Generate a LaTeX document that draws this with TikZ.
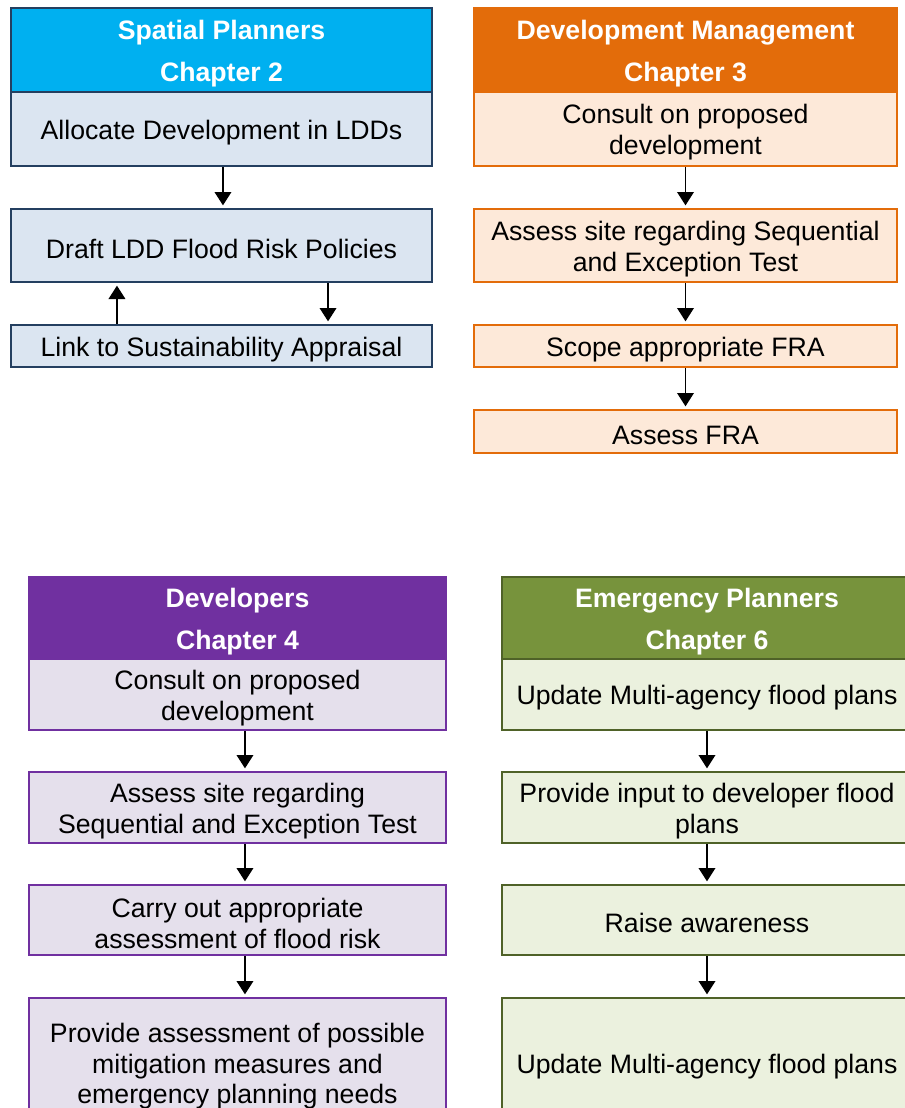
\documentclass[tikz,border=0pt]{standalone}
\usepackage{fontspec}
\setmainfont{Liberation Sans}
\usetikzlibrary{arrows.meta}
\definecolor{spHead}{HTML}{00B0F0}
\definecolor{spBody}{HTML}{DBE5F1}
\definecolor{spLine}{HTML}{243F60}
\definecolor{dmHead}{HTML}{E36C0A}
\definecolor{dmBody}{HTML}{FDE9D9}
\definecolor{dvHead}{HTML}{7030A0}
\definecolor{dvBody}{HTML}{E5E0EC}
\definecolor{emHead}{HTML}{77933C}
\definecolor{emBody}{HTML}{EBF1DE}
\definecolor{emLine}{HTML}{4F6228}
\newcommand{\tup}{\rule{0pt}{19.5pt}}
\tikzset{
  cell/.style={rectangle, anchor=north west, inner sep=0pt, align=center, line width=1.5pt,
    font=\fontsize{20}{23}\selectfont},
  headcell/.style={cell, text=white, font=\fontsize{20}{31.5}\selectfont\bfseries},
  spH/.style={headcell, fill=spHead, draw=spLine, minimum width=315.75pt},
  spB/.style={cell, fill=spBody, draw=spLine, minimum width=315.75pt},
  dmH/.style={headcell, fill=dmHead, draw=dmHead, minimum width=317.25pt},
  dmB/.style={cell, fill=dmBody, draw=dmHead, minimum width=317.25pt},
  dvH/.style={headcell, fill=dvHead, draw=dvHead, minimum width=312.75pt},
  dvB/.style={cell, fill=dvBody, draw=dvHead, minimum width=312.75pt},
  emH/.style={headcell, fill=emHead, draw=emLine, minimum width=307.5pt},
  emB/.style={cell, fill=emBody, draw=emLine, minimum width=307.5pt},
  flow/.style={-{Triangle[length=10pt,width=12.5pt]}, line width=1.1pt, black, shorten >=2pt}
}
\begin{document}
\begin{tikzpicture}[x=0.75pt, y=-0.75pt]
\path[use as bounding box] (0,0) rectangle (905,1108);
\clip (0,0) rectangle (905,1108);
\fill[white] (0,0) rectangle (905,1108);

% Spatial Planners
\node[spH, minimum height=63pt] (sph) at (10,7) {\tup Spatial Planners\\Chapter 2};
\node[spB, minimum height=55.5pt] (sp1) at (10,91) {\tup Allocate Development in LDDs};
\node[spB, minimum height=54.75pt] (sp2) at (10,208) {\tup Draft LDD Flood Risk Policies};
\node[spB, minimum height=31.5pt] (sp3) at (10,324) {\tup Link to Sustainability Appraisal};
\draw[flow] ([xshift=1.1pt]sp1.south) -- ([xshift=1.1pt]sp2.north);
\draw[flow] ([xshift=-78.4pt]sp3.north) -- ([xshift=-78.4pt]sp2.south);
\draw[flow] ([xshift=79.9pt]sp2.south) -- ([xshift=79.9pt]sp3.north);

% Development Management
\node[dmH, minimum height=63pt] (dmh) at (473,7) {\tup Development Management\\Chapter 3};
\node[dmB, minimum height=55.5pt] (dm1) at (473,91) {\tup Consult on proposed\\development};
\node[dmB, minimum height=54.75pt] (dm2) at (473,208) {\tup Assess site regarding Sequential\\and Exception Test};
\node[dmB, minimum height=31.5pt] (dm3) at (473,324) {\tup Scope appropriate FRA};
\node[dmB, minimum height=32.25pt] (dm4) at (473,409) {\tup Assess FRA};
\draw[flow] (dm1.south) -- (dm2.north);
\draw[flow] (dm2.south) -- (dm3.north);
\draw[flow] (dm3.south) -- (dm4.north);

% Developers
\node[dvH, minimum height=61.5pt] (dvh) at (28,576) {\tup Developers\\Chapter 4};
\node[dvB, minimum height=53.25pt] (dv1) at (28,658) {\tup Consult on proposed\\development};
\node[dvB, minimum height=53.25pt] (dv2) at (28,771) {\tup Assess site regarding\\Sequential and Exception Test};
\node[dvB, minimum height=52.5pt] (dv3) at (28,884) {\tup Carry out appropriate\\assessment of flood risk};
\node[dvB, minimum height=97.5pt] (dv4) at (28,997) {\tup Provide assessment of possible\\mitigation measures and\\emergency planning needs};
\draw[flow] ([xshift=5.6pt]dv1.south) -- ([xshift=5.6pt]dv2.north);
\draw[flow] ([xshift=5.6pt]dv2.south) -- ([xshift=5.6pt]dv3.north);
\draw[flow] ([xshift=5.6pt]dv3.south) -- ([xshift=5.6pt]dv4.north);

% Emergency Planners
\node[emH, minimum height=61.5pt] (emh) at (501,576) {\tup Emergency Planners\\Chapter 6};
\node[emB, minimum height=53.25pt] (em1) at (501,658) {\tup Update Multi-agency flood plans};
\node[emB, minimum height=53.25pt] (em2) at (501,771) {\tup Provide input to developer flood\\plans};
\node[emB, minimum height=52.5pt] (em3) at (501,884) {\tup Raise awareness};
\node[emB, minimum height=97.5pt] (em4) at (501,997) {\tup Update Multi-agency flood plans};
\draw[flow] (em1.south) -- (em2.north);
\draw[flow] (em2.south) -- (em3.north);
\draw[flow] (em3.south) -- (em4.north);
\end{tikzpicture}
\end{document}
